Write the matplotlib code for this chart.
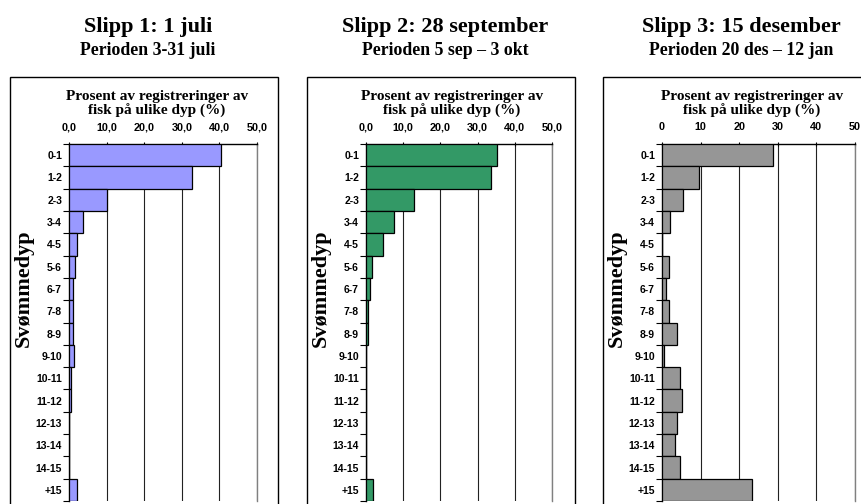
import matplotlib.pyplot as plt
from matplotlib.patches import Rectangle

# data
dyp = ["0-1", "1-2", "2-3", "3-4", "4-5", "5-6", "6-7", "7-8", "8-9", "9-10",
       "10-11", "11-12", "12-13", "13-14", "14-15", "+15"]
slipp1 = [40.5, 32.7, 10.1, 3.8, 2.0, 1.7, 1.1, 1.1, 1.1, 1.2, 0.5, 0.5, 0, 0, 0, 2.1]
slipp2 = [35.1, 33.6, 12.9, 7.6, 4.7, 1.6, 1.0, 0.6, 0.6, 0, 0, 0, 0, 0, 0, 1.9]
slipp3 = [28.8, 9.7, 5.5, 2.0, 0, 1.7, 1.1, 1.7, 3.8, 0.6, 4.7, 5.1, 3.8, 3.4, 4.7, 23.4]
titler = ["Slipp 1: 1 juli", "Slipp 2: 28 september", "Slipp 3: 15 desember"]
perioder = ["Perioden 3-31 juli", "Perioden 5 sep \u2013 3 okt", "Perioden 20 des \u2013 12 jan"]
xticks1 = ["0,0", "10,0", "20,0", "30,0", "40,0", "50,0"]
xticks3 = ["0", "10", "20", "30", "40", "50"]

W, H = 861, 504
fig = plt.figure(figsize=(W / 100, H / 100), dpi=100)
serif = ["Liberation Serif", "DejaVu Serif"]
sans = ["Liberation Sans", "DejaVu Sans"]

def fx(px):
    return px / W

def fy(py):
    return 1 - py / H

# pixel layout: axes left/right, box left/right, title centre, axis-title centre
paneler = [
    (69, 257, 10, 278, 148, 157, slipp1, "#9999ff", xticks1),
    (366, 552, 307, 575, 445, 452, slipp2, "#339966", xticks1),
    (662, 855, 603, 880, 741, 752, slipp3, "#969696", xticks3),
]

top, bottom = 144, 501
for i, (l, r, bl, br, tc, ac, verdier, farge, xt) in enumerate(paneler):
    # chart area border
    fig.patches.append(Rectangle((fx(bl), -0.05), fx(br - bl), fy(77) + 0.05,
                                 transform=fig.transFigure, fill=False,
                                 edgecolor="black", lw=1.0, zorder=0))
    fig.text(fx(tc), fy(32), titler[i], ha="center", va="baseline",
             family=serif, weight="bold", fontsize=16)
    fig.text(fx(tc), fy(55), perioder[i], ha="center", va="baseline",
             family=serif, weight="bold", fontsize=12.8)
    fig.text(fx(ac), fy(100), "Prosent av registreringer av", ha="center",
             va="baseline", family=serif, weight="bold", fontsize=11)
    fig.text(fx(ac), fy(115), "fisk p\u00e5 ulike dyp (%)", ha="center",
             va="baseline", family=serif, weight="bold", fontsize=11)
    fig.text(fx(bl + 14), fy(288), "Sv\u00f8mmedyp", rotation=90, ha="center",
             va="center", family=serif, weight="bold", fontsize=16)

    ax = fig.add_axes([fx(l), fy(bottom), fx(r - l), (bottom - top) / H])
    y = list(range(len(dyp)))
    ax.barh(y, verdier, height=1.0, color=farge, edgecolor="black", lw=0.9, zorder=3)
    ax.set_ylim(len(dyp) - 0.5, -0.5)
    ax.set_xlim(0, 50)
    ax.xaxis.tick_top()
    ax.set_xticks([0, 10, 20, 30, 40, 50])
    ax.set_xticklabels(xt, family=sans, weight="bold", fontsize=7.8)
    ax.set_yticks(y)
    ax.set_yticklabels(dyp, family=sans, weight="bold", fontsize=7.5)
    ax.set_yticks([k + 0.5 for k in range(-1, len(dyp))], minor=True)
    ax.tick_params(axis="y", which="major", length=0, pad=5)
    ax.tick_params(axis="y", which="minor", length=4, width=0.8, direction="out")
    ax.tick_params(axis="x", length=3, width=0.8, direction="inout", pad=7)
    ax.grid(axis="x", color="#222222", lw=0.8, zorder=0)
    ax.spines["bottom"].set_visible(False)
    ax.spines["right"].set_color("#808080")
    ax.spines["right"].set_linewidth(1.0)
    ax.spines["top"].set_linewidth(1.0)
    ax.spines["left"].set_linewidth(1.0)

fig.savefig("out.png", dpi=100)
